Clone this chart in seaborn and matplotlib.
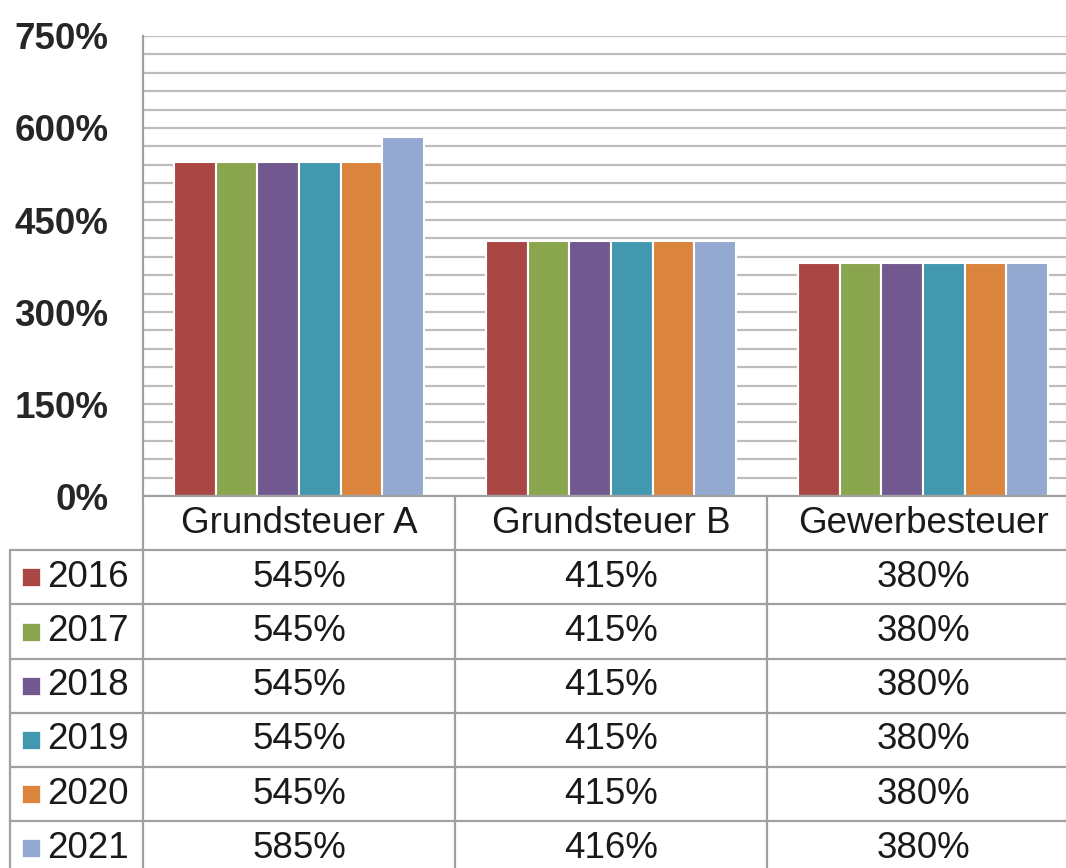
import pandas as pd
import numpy as np
import matplotlib
matplotlib.use("Agg")
import matplotlib.pyplot as plt
import seaborn as sns

# ======== DATA =========
steuern = ["Grundsteuer A", "Grundsteuer B", "Gewerbesteuer"]
jahre = ["2016", "2017", "2018", "2019", "2020", "2021"]
hebesatz_a = [545, 545, 545, 545, 545, 585]
hebesatz_b = [415, 415, 415, 415, 415, 416]
hebesatz_gew = [380, 380, 380, 380, 380, 380]
y_ticks = [0, 150, 300, 450, 600, 750]
farben = ["#AA4644", "#89A54E", "#71588F", "#4198AF", "#DB843D", "#93A9CF"]

werte = {"Grundsteuer A": hebesatz_a, "Grundsteuer B": hebesatz_b, "Gewerbesteuer": hebesatz_gew}
rows = []
for s in steuern:
    for j, v in zip(jahre, werte[s]):
        rows.append({"Steuer": s, "Jahr": j, "Hebesatz": v})
df = pd.DataFrame(rows)

# ======== STYLE =========
sns.set_style("white")
plt.rcParams["font.family"] = ["Liberation Sans", "DejaVu Sans"]
FS = 26.5
GRID = "#BDBDBD"
LINE = "#A0A0A0"

W, H = 1066, 868
fig = plt.figure(figsize=(W / 100, H / 100), dpi=100)

# plot area in pixel terms: x 143 -> 1079, y 36 -> 496
ax = fig.add_axes([143 / W, (H - 496) / H, 936 / W, 460 / H])
sns.barplot(data=df, x="Steuer", y="Hebesatz", hue="Jahr", order=steuern, hue_order=jahre,
            palette=farben, saturation=1, edgecolor="white", linewidth=1.5, width=0.8,
            legend=False, ax=ax)
ax.set_xlim(-0.5, 2.5)
ax.set_ylim(0, 750)
ax.set_yticks(y_ticks)
ax.set_yticklabels([f"{t}%" for t in y_ticks], fontsize=FS, fontweight="bold")
ax.set_yticks(np.arange(0, 751, 30), minor=True)
ax.tick_params(axis="y", which="both", length=0, pad=25)
ax.set_xticks([])
ax.set_xlabel("")
ax.set_ylabel("")
ax.set_axisbelow(True)
ax.grid(axis="y", which="both", color=GRID, linewidth=1.6)
for side in ["top", "right", "bottom"]:
    ax.spines[side].set_visible(False)
ax.spines["left"].set_color(LINE)
ax.spines["left"].set_linewidth(1.6)

# ======== DATA TABLE =========
tab = fig.add_axes([143 / W, 0, 936 / W, (H - 496) / H])
tab.set_xlim(-0.5, 2.5)
tab.set_ylim(H, 496)
tab.axis("off")

def px2x(px):
    return (px - 143) / 312 - 0.5

top = 496
row_h = 54.2
left_edge = px2x(10)
n_rows = len(jahre)
bottom = top + row_h * (n_rows + 1)

# horizontal lines
tab.plot([-0.5, 2.6], [top, top], color=LINE, lw=1.6, clip_on=False)
for i in range(1, n_rows + 2):
    y = top + row_h * i
    tab.plot([left_edge, 2.6], [y, y], color=LINE, lw=1.6, clip_on=False)
# vertical lines
for xv in [-0.5, 0.5, 1.5]:
    tab.plot([xv, xv], [top, bottom], color=LINE, lw=1.6, clip_on=False)
tab.plot([left_edge, left_edge], [top + row_h, bottom], color=LINE, lw=1.6, clip_on=False)

# header
for i, s in enumerate(steuern):
    tab.text(i, top + row_h / 2, s, ha="center", va="center", fontsize=FS, color="#1a1a1a")

# rows
for r, j in enumerate(jahre):
    yc = top + row_h * (r + 1.5)
    tab.plot([px2x(31)], [yc], marker="s", markersize=13.5, color=farben[r],
             markeredgecolor="white", markeredgewidth=0.5, clip_on=False)
    tab.text(px2x(47), yc, j, ha="left", va="center", fontsize=FS, color="#1a1a1a")
    for i, s in enumerate(steuern):
        tab.text(i, yc, f"{werte[s][r]}%", ha="center", va="center", fontsize=FS, color="#1a1a1a")

fig.savefig("out.png", dpi=100)
